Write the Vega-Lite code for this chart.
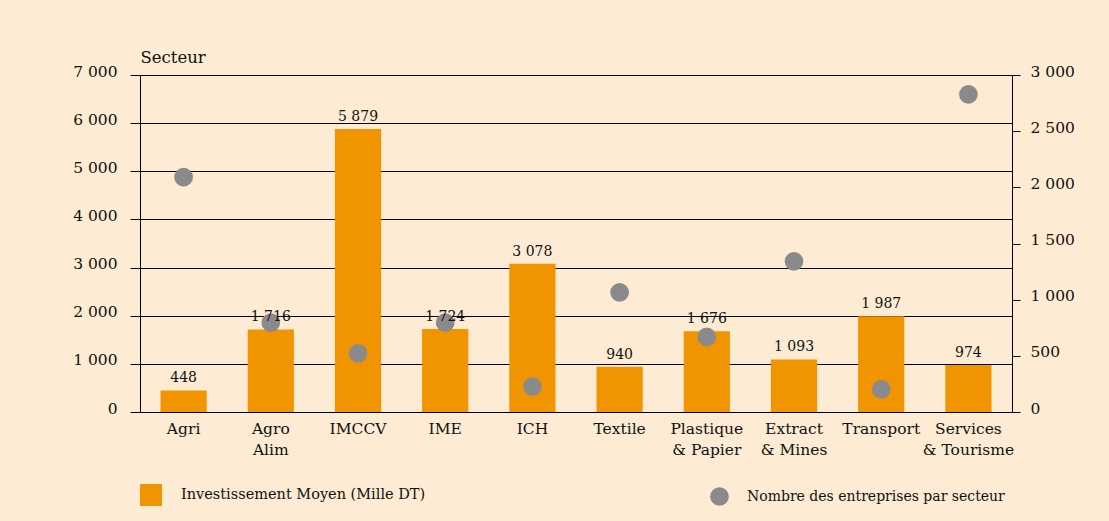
{
  "$schema": "https://vega.github.io/schema/vega-lite/v6.json",
  "width": 872,
  "height": 337,
  "autosize": "none",
  "padding": {"left": 140, "top": 75, "right": 97, "bottom": 109},
  "background": "#fdebd3",
  "config": {
    "locale": {"number": {"decimal": ",", "thousands": " ", "grouping": [3], "currency": ["", ""]}},
    "font": "DejaVu Serif",
    "view": {"stroke": null},
    "axis": {"labelFont": "DejaVu Serif", "labelColor": "#111111", "domainColor": "black", "tickColor": "black", "labelFontSize": 15.5}
  },
  "data": {
    "values": [
      {"secteur": "Agri", "investissement": 448, "nombre": 2090},
      {"secteur": "Agro\nAlim", "investissement": 1716, "nombre": 795},
      {"secteur": "IMCCV", "investissement": 5879, "nombre": 522},
      {"secteur": "IME", "investissement": 1724, "nombre": 795},
      {"secteur": "ICH", "investissement": 3078, "nombre": 225},
      {"secteur": "Textile", "investissement": 940, "nombre": 1065},
      {"secteur": "Plastique\n& Papier", "investissement": 1676, "nombre": 668},
      {"secteur": "Extract\n& Mines", "investissement": 1093, "nombre": 1341},
      {"secteur": "Transport", "investissement": 1987, "nombre": 202},
      {"secteur": "Services\n& Tourisme", "investissement": 974, "nombre": 2828}
    ]
  },
  "encoding": {
    "x": {
      "field": "secteur", "type": "nominal", "sort": null,
      "scale": {"paddingInner": 0.47, "paddingOuter": 0.235},
      "axis": {"title": null, "labelAngle": 0, "labelExpr": "split(datum.label, '\\n')", "labelFontSize": 15.5, "labelPadding": 9, "ticks": false, "domainColor": "black", "labelLineHeight": 21}
    }
  },
  "layer": [
    {
      "encoding": {
        "y": {
          "field": "investissement", "type": "quantitative",
          "scale": {"domain": [0, 7000], "nice": false},
          "axis": {
            "title": "Secteur", "titleAngle": 0, "titleX": 0, "titleY": -13, "titleAlign": "left", "titleBaseline": "alphabetic",
            "titleFont": "DejaVu Serif", "titleFontSize": 16.5, "titleFontWeight": "normal", "titleColor": "#111111",
            "values": [0, 1000, 2000, 3000, 4000, 5000, 6000, 7000], "format": ",d",
            "grid": true, "gridColor": "black", "gridOpacity": 1, "gridWidth": 1,
            "tickSize": 10, "labelPadding": 13, "labelOffset": -4, "domainColor": "black"
          }
        }
      },
      "layer": [
        {
          "mark": {"type": "bar", "color": "#f09500"},
          "encoding": {
            "color": {
              "datum": "Investissement Moyen (Mille DT)",
              "scale": {"range": ["#f09500"]},
              "legend": {"title": null, "orient": "none", "legendX": 0, "legendY": 409, "symbolType": "square", "symbolSize": 484, "symbolStrokeWidth": 0, "labelFont": "DejaVu Serif", "labelFontSize": 14.5, "labelColor": "#111111", "labelOffset": 19, "labelLimit": 0, "padding": 0}
            }
          }
        }
      ]
    },
    {
      "mark": {"type": "point", "filled": true, "size": 350, "opacity": 1, "strokeWidth": 0},
      "encoding": {
        "y": {
          "field": "nombre", "type": "quantitative",
          "scale": {"domain": [0, 3000], "nice": false},
          "axis": {"orient": "right", "title": null, "values": [0, 500, 1000, 1500, 2000, 2500, 3000], "format": ",d", "grid": false, "tickSize": 8, "labelPadding": 10, "labelOffset": -4, "domainColor": "black"}
        },
        "fill": {
          "datum": "Nombre des entreprises par secteur",
          "scale": {"range": ["#8a8a8c"]},
          "legend": {"title": null, "orient": "none", "legendX": 570, "legendY": 412, "symbolType": "circle", "symbolSize": 350, "symbolStrokeWidth": 0, "labelFont": "DejaVu Serif", "labelFontSize": 14, "labelColor": "#111111", "labelOffset": 18, "labelLimit": 0, "padding": 0}
        }
      }
    },
    {
      "mark": {"type": "text", "baseline": "bottom", "dy": -5, "fontSize": 14, "font": "DejaVu Serif", "color": "#111111"},
      "encoding": {
        "y": {"field": "investissement", "type": "quantitative", "scale": {"domain": [0, 7000], "nice": false}, "axis": null},
        "text": {"field": "investissement", "type": "quantitative", "format": ",d"}
      }
    }
  ],
  "resolve": {"scale": {"y": "independent"}, "axis": {"y": "independent"}}
}
